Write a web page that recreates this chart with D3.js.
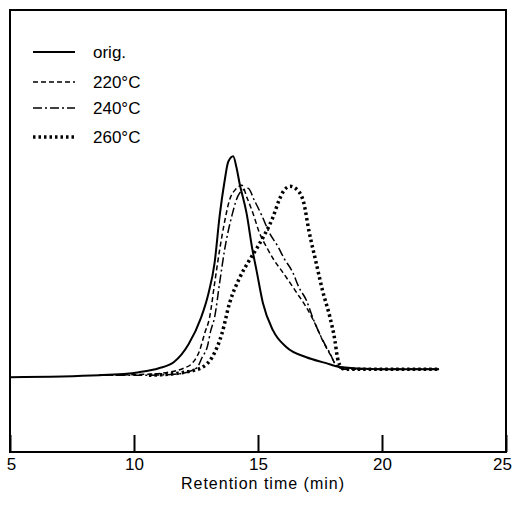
<!DOCTYPE html>
<meta charset="utf-8">
<script src="https://d3js.org/d3.v7.min.js"></script>
<style>
  body { margin: 0; background: #fff; }
  text { font-family: "Liberation Sans", Arial, sans-serif; fill: #000; }
</style>
<div id="my_dataviz"></div>
<script>

// retention time (min), detector response (arbitrary units, baseline = 0)
var orig = [[5.0,0],[8.6,0.9],[10.2,2.3],[11.0,4.1],[11.6,6.8],[12.2,15],[12.7,27],[13.0,38],
  [13.25,52],[13.45,73],[13.65,89],[13.8,98],[14.0,100.5],[14.13,95.5],[14.26,88],[14.54,74.5],
  [14.78,57.7],[14.94,48.6],[15.2,33.6],[15.6,21.4],[16.15,13.6],[16.95,9.1],[17.75,6.4],
  [18.15,5],[19.0,4],[20.7,3.6],[22.3,3.6]];
var c220 = [[8.6,0.9],[10.6,1.4],[11.4,2.3],[12.0,4.1],[12.35,6.4],[12.65,12.3],[12.85,20],
  [13.05,27.3],[13.25,42.7],[13.45,57.7],[13.65,70.5],[13.85,80.5],[14.1,85.5],[14.35,87.3],
  [14.55,81.8],[14.8,74.5],[15.05,65.9],[15.35,59.1],[15.65,53.2],[16.0,47.7],[16.55,38.6],
  [16.95,31.8],[17.35,23.2],[17.6,16.8],[17.95,9.5],[18.15,5.5],[18.5,3.6],[22.3,3.6]];
var c240 = [[8.6,0.9],[10.6,0.9],[11.65,1.4],[12.25,2.7],[12.55,4.5],[12.75,9.1],[12.95,13.6],
  [13.1,21.4],[13.25,27.3],[13.45,42.7],[13.65,57.7],[13.95,73.6],[14.25,83.6],[14.6,85.9],
  [14.85,80.5],[15.15,73.6],[15.45,65.9],[15.8,59.5],[16.05,54.1],[16.4,47.7],[16.65,40.9],
  [16.95,35],[17.2,27.3],[17.55,18.2],[17.9,10.9],[18.15,5.5],[18.5,3.6],[22.3,3.6]];
var c260 = [[10.6,0.9],[11.45,1.4],[12.05,2.3],[12.45,3.2],[12.75,4.5],[13.15,9.1],[13.55,20],
  [13.85,33.6],[14.25,45],[14.65,53.2],[14.95,58.6],[15.25,64.5],[15.6,72.7],[15.85,80.5],
  [16.05,85],[16.3,86.8],[16.6,85],[16.85,79.1],[17.05,66.8],[17.35,51.8],[17.6,39.5],
  [17.9,27.3],[18.1,16.8],[18.2,9.1],[18.3,5.5],[18.5,3.6],[22.3,3.6]];

var seriesNames = ["orig.", "220\u00b0C", "240\u00b0C", "260\u00b0C"];
var seriesData = [orig, c220, c240, c260];
var xTicks = [5, 10, 15, 20, 25];

// line styles per series
var styles = [
  {width: 2, dash: null},
  {width: 1.5, dash: "5,3"},
  {width: 1.5, dash: "9,3,2,3"},
  {width: 3.5, dash: "2.5,3"}
];

var W = 514, H = 508;
var pLeft = 10, pRight = 506, pTop = 10, pBottom = 452;

var svg = d3.select("#my_dataviz")
  .append("svg")
    .attr("width", W)
    .attr("height", H);

var x = d3.scaleLinear().domain([5, 25]).range([pLeft, pRight]);
var y = d3.scaleLinear().domain([-34, 167]).range([pBottom, pTop]);

// frame
svg.append("rect")
  .attr("x", pLeft).attr("y", pTop)
  .attr("width", pRight - pLeft).attr("height", pBottom - pTop)
  .attr("fill", "none").attr("stroke", "#000").attr("stroke-width", 2);

// x axis, ticks pointing inward
var xAxis = svg.append("g")
  .attr("transform", "translate(0," + pBottom + ")")
  .call(d3.axisBottom(x).tickValues(xTicks).tickSize(-17).tickPadding(6)
    .tickFormat(d3.format("d")));
xAxis.select(".domain").remove();
xAxis.selectAll("line").attr("stroke-width", 2);
xAxis.selectAll("text")
  .style("font-size", "17px")
  .attr("dx", function(d) { return d == 25 ? -4 : (d == 5 ? 1 : 0); });

svg.append("text")
  .attr("x", 263)
  .attr("y", 489)
  .attr("text-anchor", "middle")
  .style("font-size", "16px")
  .style("letter-spacing", "1px")
  .text("Retention time (min)");

// curves
var line = d3.line()
  .x(function(d) { return x(d[0]); })
  .y(function(d) { return y(d[1]); })
  .curve(d3.curveMonotoneX);

seriesData.forEach(function(s, i) {
  svg.append("path")
    .datum(s)
    .attr("d", line)
    .attr("fill", "none")
    .attr("stroke", "#000")
    .attr("stroke-width", styles[i].width)
    .attr("stroke-dasharray", styles[i].dash);
});

// legend
var legY = [52, 82, 108, 137];
seriesNames.forEach(function(name, i) {
  svg.append("line")
    .attr("x1", 33).attr("x2", 75)
    .attr("y1", legY[i]).attr("y2", legY[i])
    .attr("stroke", "#000")
    .attr("stroke-width", styles[i].width)
    .attr("stroke-dasharray", styles[i].dash);
  svg.append("text")
    .attr("x", 93)
    .attr("y", legY[i] + 6)
    .style("font-size", "17px")
    .text(name);
});

</script>
